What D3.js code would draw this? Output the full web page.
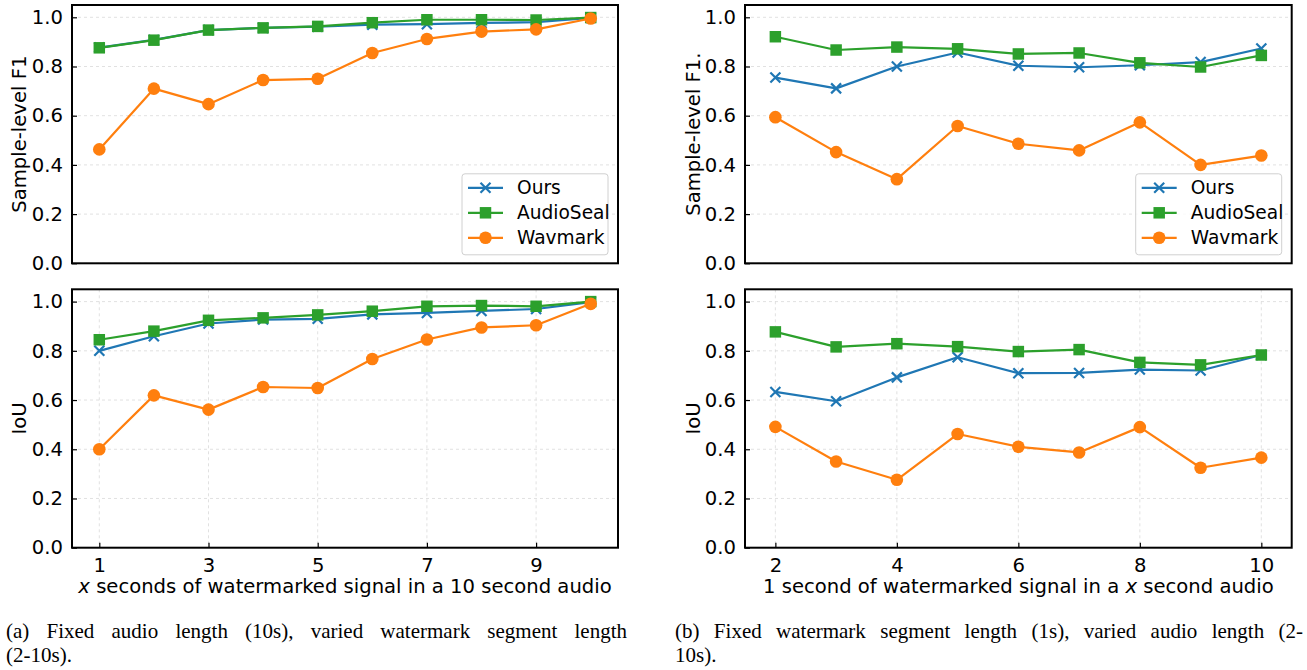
<!DOCTYPE html>
<html><head><meta charset="utf-8">
<script src="https://cdn.jsdelivr.net/npm/d3@7"></script>
<style>
html,body{margin:0;padding:0;background:#fff;}
svg{display:block;}
text{font-family:"DejaVu Sans",sans-serif;fill:#000;}
.cap{font-family:"Liberation Serif","Times New Roman",serif;}
</style></head>
<body><svg id="c" width="1307" height="670"></svg>
<script>
// ---- data ----
const seriesNames = ["Ours", "AudioSeal", "Wavmark"];
const xLeft = [1, 2, 3, 4, 5, 6, 7, 8, 9, 10];
const xRight = [2, 3, 4, 5, 6, 7, 8, 9, 10];

const f1LeftOurs      = [0.877, 0.908, 0.948, 0.957, 0.962, 0.970, 0.972, 0.977, 0.980, 0.998];
const f1LeftAudioSeal = [0.876, 0.907, 0.948, 0.957, 0.963, 0.978, 0.990, 0.990, 0.989, 0.999];
const f1LeftWavmark   = [0.463, 0.710, 0.647, 0.745, 0.750, 0.855, 0.912, 0.942, 0.951, 0.995];

const iouLeftOurs      = [0.800, 0.859, 0.911, 0.927, 0.930, 0.948, 0.954, 0.962, 0.970, 0.998];
const iouLeftAudioSeal = [0.845, 0.880, 0.924, 0.934, 0.946, 0.961, 0.981, 0.984, 0.981, 1.000];
const iouLeftWavmark   = [0.400, 0.619, 0.561, 0.653, 0.649, 0.767, 0.846, 0.895, 0.904, 0.991];

const f1RightOurs      = [0.755, 0.711, 0.800, 0.857, 0.803, 0.797, 0.805, 0.818, 0.873];
const f1RightAudioSeal = [0.921, 0.867, 0.879, 0.872, 0.851, 0.855, 0.815, 0.798, 0.845];
const f1RightWavmark   = [0.594, 0.452, 0.342, 0.558, 0.486, 0.459, 0.573, 0.400, 0.438];

const iouRightOurs      = [0.633, 0.595, 0.692, 0.774, 0.709, 0.710, 0.724, 0.720, 0.783];
const iouRightAudioSeal = [0.877, 0.816, 0.829, 0.817, 0.797, 0.805, 0.753, 0.743, 0.783];
const iouRightWavmark   = [0.491, 0.350, 0.276, 0.462, 0.410, 0.387, 0.490, 0.325, 0.366];

const yTicks = [0.0, 0.2, 0.4, 0.6, 0.8, 1.0];
const xTicksLeft = [1, 3, 5, 7, 9];
const xTicksRight = [2, 4, 6, 8, 10];

const yLabels = ["Sample-level F1", "IoU", "Sample-level F1.", "IoU"];
const xLabelLeft = ["x", " seconds of watermarked signal in a 10 second audio"];
const xLabelRight = ["1 second of watermarked signal in a ", "x", " second audio"];
const captionLeft = ["(a) Fixed audio length (10s), varied watermark segment length", "(2-10s)."];
const captionRight = ["(b) Fixed watermark segment length (1s), varied audio length (2-", "10s)."];

// ---- style ----
const colors = {Ours: "#1f77b4", AudioSeal: "#2ca02c", Wavmark: "#ff7f0e"};
const markers = {Ours: "x", AudioSeal: "square", Wavmark: "circle"};
const FS = 19.6;
const CAP_FS = 21;

const svg = d3.select("#c");

const panels = [
  {x: xLeft, xd: [0.5, 10.5], r: [72, 618], t: [5, 263.3], ticks: xTicksLeft, showX: false, yl: yLabels[0], ylx: 26,
   data: [f1LeftOurs, f1LeftAudioSeal, f1LeftWavmark], legend: true},
  {x: xLeft, xd: [0.5, 10.5], r: [72, 618], t: [289.3, 547.7], ticks: xTicksLeft, showX: true, yl: yLabels[1], ylx: 26,
   data: [iouLeftOurs, iouLeftAudioSeal, iouLeftWavmark], legend: false, xlab: xLabelLeft, xlabItalic: [0]},
  {x: xRight, xd: [1.5, 10.5], r: [745, 1291.7], t: [5, 263.3], ticks: xTicksRight, showX: false, yl: yLabels[2], ylx: 700,
   data: [f1RightOurs, f1RightAudioSeal, f1RightWavmark], legend: true},
  {x: xRight, xd: [1.5, 10.5], r: [745, 1291.7], t: [289.3, 547.7], ticks: xTicksRight, showX: true, yl: yLabels[3], ylx: 700,
   data: [iouRightOurs, iouRightAudioSeal, iouRightWavmark], legend: false, xlab: xLabelRight, xlabItalic: [1]},
];

function drawMarker(g, type, color) {
  if (type === "x") {
    const r = 5;
    g.append("path").attr("d", `M${-r},${-r}L${r},${r}M${-r},${r}L${r},${-r}`)
      .attr("stroke", color).attr("stroke-width", 2.2).attr("fill", "none");
  } else if (type === "square") {
    g.append("path").attr("d", d3.symbol(d3.symbolSquare, 132)()).attr("fill", color);
  } else {
    g.append("path").attr("d", d3.symbol(d3.symbolCircle, 125)()).attr("fill", color);
  }
}

panels.forEach(p => {
  const xs = d3.scaleLinear().domain(p.xd).range(p.r);
  const ys = d3.scaleLinear().domain([0, 1.05]).range([p.t[1], p.t[0]]);
  const g = svg.append("g");

  // grid
  g.append("g").selectAll("line").data(yTicks).join("line")
    .attr("x1", p.r[0]).attr("x2", p.r[1]).attr("y1", d => ys(d)).attr("y2", d => ys(d))
    .attr("stroke", "#d9d9d9").attr("stroke-width", 0.8).attr("stroke-dasharray", "3,3");
  if (p.showX) {
    g.append("g").selectAll("line").data(p.ticks).join("line")
      .attr("x1", d => xs(d)).attr("x2", d => xs(d)).attr("y1", p.t[0]).attr("y2", p.t[1])
      .attr("stroke", "#d9d9d9").attr("stroke-width", 0.8).attr("stroke-dasharray", "3,3");
  }

  // axes
  const yAxis = d3.axisLeft(ys).tickValues(yTicks).tickFormat(d3.format(".1f")).tickSizeInner(-5).tickSizeOuter(0).tickPadding(9);
  const ya = g.append("g").attr("transform", `translate(${p.r[0]},0)`).call(yAxis);
  ya.select(".domain").remove();
  ya.selectAll("line").attr("stroke", "#000").attr("stroke-width", 1.2);
  ya.selectAll("text").attr("font-size", FS).attr("font-family", "DejaVu Sans").attr("fill", "#000");

  if (p.showX) {
    const xAxis = d3.axisBottom(xs).tickValues(p.ticks).tickFormat(d3.format("d")).tickSizeInner(-5).tickSizeOuter(0).tickPadding(10);
    const xa = g.append("g").attr("transform", `translate(0,${p.t[1]})`).call(xAxis);
    xa.select(".domain").remove();
    xa.selectAll("line").attr("stroke", "#000").attr("stroke-width", 1.2);
    xa.selectAll("text").attr("font-size", FS).attr("font-family", "DejaVu Sans").attr("fill", "#000");

    const t = g.append("text").attr("x", (p.r[0] + p.r[1]) / 2).attr("y", 593)
      .attr("text-anchor", "middle").attr("font-size", FS);
    p.xlab.forEach((s, i) => {
      const ts = t.append("tspan").text(s);
      if (p.xlabItalic.includes(i)) ts.attr("font-style", "italic");
    });
  }

  // y label
  const cy = (p.t[0] + p.t[1]) / 2;
  g.append("text").attr("transform", `translate(${p.ylx},${cy}) rotate(-90)`)
    .attr("text-anchor", "middle").attr("font-size", FS).text(p.yl);

  // lines + markers
  seriesNames.forEach((name, si) => {
    const vals = p.data[si];
    const line = d3.line().x((d, i) => xs(p.x[i])).y(d => ys(d));
    g.append("path").datum(vals).attr("d", line).attr("fill", "none")
      .attr("stroke", colors[name]).attr("stroke-width", 2.2).attr("stroke-linejoin", "round");
    vals.forEach((v, i) => {
      const mg = g.append("g").attr("transform", `translate(${xs(p.x[i])},${ys(v)})`);
      drawMarker(mg, markers[name], colors[name]);
    });
  });

  // frame
  g.append("rect").attr("x", p.r[0]).attr("y", p.t[0]).attr("width", p.r[1] - p.r[0]).attr("height", p.t[1] - p.t[0])
    .attr("fill", "none").attr("stroke", "#000").attr("stroke-width", 2);

  // legend
  if (p.legend) {
    const lw = 146, lh = 81;
    const lx = p.r[1] - 10 - lw, ly = p.t[1] - 8.5 - lh;
    const lg = g.append("g").attr("transform", `translate(${lx},${ly})`);
    lg.append("rect").attr("width", lw).attr("height", lh).attr("rx", 3)
      .attr("fill", "#fff").attr("fill-opacity", 0.8).attr("stroke", "#d0d0d0").attr("stroke-width", 1);
    seriesNames.forEach((name, i) => {
      const yy = 14 + i * 25;
      lg.append("line").attr("x1", 6).attr("x2", 41).attr("y1", yy).attr("y2", yy)
        .attr("stroke", colors[name]).attr("stroke-width", 2.2);
      const mg = lg.append("g").attr("transform", `translate(23.5,${yy})`);
      drawMarker(mg, markers[name], colors[name]);
      lg.append("text").attr("x", 55).attr("y", yy).attr("dy", "0.35em").attr("font-size", FS - 1).text(name);
    });
  }
});

// captions (first line justified by word spacing)
function caption(lines, x0, x1, y0) {
  const t = svg.append("text").attr("class", "cap").attr("x", x0).attr("y", y0).attr("font-size", CAP_FS).text(lines[0]);
  const natural = t.node().getComputedTextLength();
  const spaces = (lines[0].match(/ /g) || []).length;
  if (spaces > 0 && natural < x1 - x0) t.attr("word-spacing", (x1 - x0 - natural) / spaces);
  else if (natural > x1 - x0) t.attr("textLength", x1 - x0).attr("lengthAdjust", "spacingAndGlyphs");
  svg.append("text").attr("class", "cap").attr("x", x0).attr("y", y0 + 23.5).attr("font-size", CAP_FS).text(lines[1]);
}
caption(captionLeft, 6, 627, 638);
caption(captionRight, 675, 1303, 638);
</script></body></html>
